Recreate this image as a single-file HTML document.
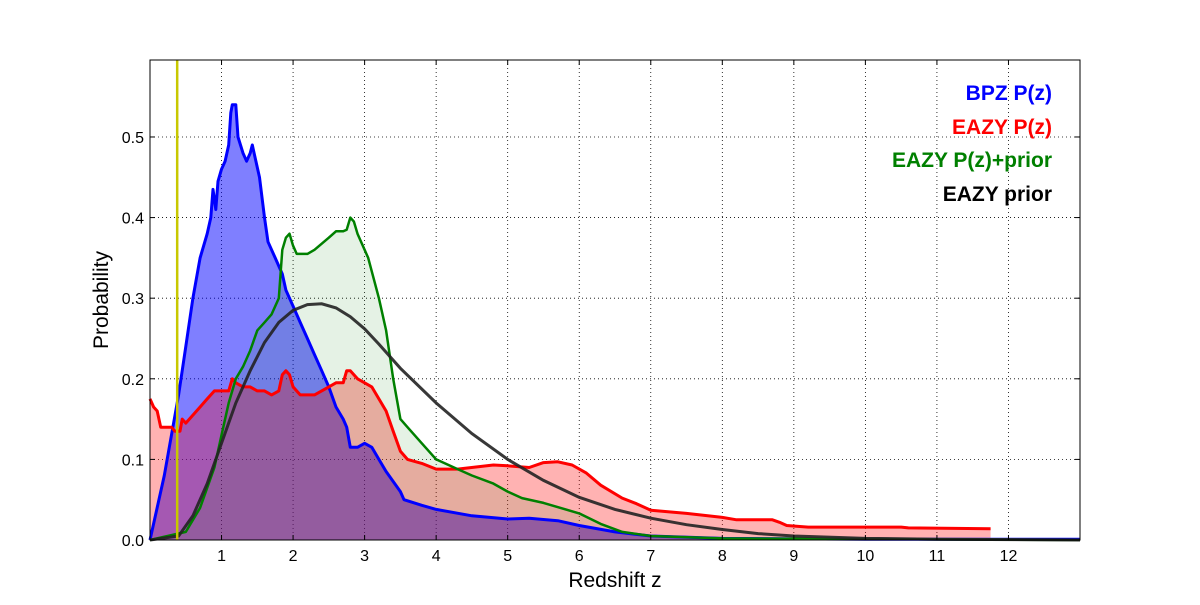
<!DOCTYPE html>
<html><head><meta charset="utf-8"><style>
body{margin:0;background:#fff}
svg{font-family:"Liberation Sans","DejaVu Sans",sans-serif}
</style></head><body>
<svg id="chart" width="1200" height="600"></svg>
<script>
const bpzZ=[0,0.2,0.4,0.5,0.6,0.7,0.8,0.85,0.88,0.92,0.95,1.0,1.05,1.1,1.13,1.15,1.2,1.23,1.3,1.35,1.4,1.43,1.48,1.53,1.6,1.65,1.75,1.85,1.9,2.0,2.1,2.2,2.3,2.4,2.5,2.6,2.7,2.75,2.8,2.9,3.0,3.1,3.2,3.3,3.5,3.55,3.8,4,4.5,5,5.3,5.7,6,6.5,7,8,10,13];
const bpzP=[0,0.08,0.18,0.24,0.3,0.35,0.38,0.4,0.435,0.41,0.445,0.46,0.47,0.49,0.53,0.54,0.54,0.5,0.48,0.47,0.48,0.49,0.47,0.45,0.4,0.37,0.35,0.33,0.31,0.29,0.27,0.25,0.23,0.21,0.19,0.165,0.15,0.14,0.115,0.115,0.12,0.115,0.1,0.085,0.06,0.05,0.043,0.038,0.03,0.026,0.027,0.024,0.018,0.01,0.005,0.002,0.001,0.001];
const eazyZ=[0,0.05,0.1,0.15,0.3,0.35,0.42,0.45,0.5,0.6,0.7,0.8,0.9,1.0,1.1,1.15,1.2,1.3,1.4,1.5,1.6,1.7,1.8,1.85,1.9,1.95,2.0,2.1,2.3,2.5,2.6,2.7,2.75,2.8,2.9,3.0,3.1,3.2,3.3,3.4,3.5,3.6,3.8,4,4.3,4.8,5.0,5.3,5.5,5.7,5.9,6.1,6.3,6.6,6.8,7.0,7.5,8.0,8.2,8.7,8.8,8.9,9.2,10.5,10.6,11.75];
const eazyP=[0.175,0.165,0.16,0.14,0.14,0.135,0.135,0.15,0.145,0.155,0.165,0.175,0.185,0.185,0.185,0.2,0.195,0.19,0.19,0.185,0.185,0.18,0.185,0.205,0.21,0.205,0.19,0.18,0.18,0.19,0.195,0.195,0.21,0.21,0.2,0.195,0.19,0.175,0.16,0.135,0.11,0.1,0.095,0.088,0.088,0.093,0.092,0.09,0.096,0.097,0.093,0.083,0.068,0.052,0.045,0.037,0.033,0.028,0.025,0.025,0.022,0.018,0.016,0.016,0.015,0.014];
const priorPZ=[0,0.5,0.7,0.9,1.0,1.1,1.2,1.3,1.4,1.5,1.6,1.7,1.8,1.85,1.9,1.95,2.0,2.05,2.2,2.3,2.5,2.6,2.7,2.75,2.8,2.85,2.9,3.0,3.05,3.2,3.3,3.4,3.5,3.6,3.8,4.0,4.3,4.5,4.8,5.0,5.2,5.5,6.0,6.3,6.6,7,8,13];
const priorPP=[0,0.01,0.04,0.09,0.13,0.17,0.2,0.215,0.235,0.26,0.27,0.28,0.3,0.36,0.375,0.38,0.365,0.355,0.355,0.36,0.375,0.383,0.383,0.385,0.4,0.395,0.38,0.36,0.35,0.3,0.26,0.2,0.15,0.14,0.12,0.1,0.088,0.08,0.07,0.06,0.052,0.046,0.033,0.02,0.01,0.005,0.002,0];
const priorZ=[0,0.4,0.6,0.8,1.0,1.2,1.4,1.6,1.8,2.0,2.2,2.4,2.6,2.8,3.0,3.2,3.5,4.0,4.5,5.0,5.5,6,6.5,7,7.5,8,8.5,9,10,11,13];
const priorP=[0,0.005,0.03,0.07,0.12,0.17,0.21,0.245,0.27,0.285,0.292,0.293,0.288,0.277,0.262,0.243,0.213,0.17,0.132,0.1,0.074,0.053,0.038,0.027,0.019,0.013,0.008,0.005,0.002,0.001,0];
const xTicks=[1,2,3,4,5,6,7,8,9,10,11,12];
const yTicks=[0,0.1,0.2,0.3,0.4,0.5];
const zCut=0.38;

const NS="http://www.w3.org/2000/svg";
const svg=document.getElementById('chart');
const L=150,R=1080,T=60,B=540,X0=0,X1=13,Y1=0.5955;
const sx=z=>L+(z-X0)/(X1-X0)*(R-L);
const sy=p=>B-p/Y1*(B-T);
function el(tag,attrs,parent){const e=document.createElementNS(NS,tag);for(const k in attrs)e.setAttribute(k,attrs[k]);(parent||svg).appendChild(e);return e;}
// grid
xTicks.forEach(t=>{const g=el('line',{x1:sx(t),x2:sx(t),y1:T,y2:B,stroke:'#000','stroke-dasharray':'1,3','stroke-width':0.8});

});
yTicks.forEach(t=>{const g=el('line',{x1:L,x2:R,y1:sy(t),y2:sy(t),stroke:'#000','stroke-dasharray':'1,3','stroke-width':0.8});

});
function pts(zs,ps){return zs.map((z,i)=>sx(z).toFixed(1)+','+sy(ps[i]).toFixed(1)).join(' ');}
function series(zs,ps,fill,stroke,w,name){
  const a=el('polygon',{points:sx(zs[0])+','+sy(0)+' '+pts(zs,ps)+' '+sx(zs[zs.length-1])+','+sy(0),fill:fill,stroke:'none'});
  
  
  return ()=>{const l=el('polyline',{points:pts(zs,ps),fill:'none',stroke:stroke,'stroke-width':w,'stroke-linejoin':'round'});
  
  };
}
const lb=series(bpzZ,bpzP,'rgba(0,0,255,0.5)','#0000ff',3,'bpz-pz');
const lr=series(eazyZ,eazyP,'rgba(255,0,0,0.3)','#ff0000',3,'eazy-pz');
const lg=series(priorPZ,priorPP,'rgba(0,128,0,0.1)','#008000',2.5,'eazy-pz-prior');
lb();lr();lg();
const pl=el('polyline',{points:pts(priorZ,priorP),fill:'none',stroke:'#222','stroke-width':3,opacity:0.9});


const yl=el('line',{x1:sx(zCut),x2:sx(zCut),y1:T,y2:B,stroke:'#c8c800','stroke-width':2.5});


// frame
const fr=el('rect',{x:L,y:T,width:R-L,height:B-T,fill:'none',stroke:'#000','stroke-width':1});


xTicks.forEach(t=>{
  el('line',{x1:sx(t),x2:sx(t),y1:B,y2:B-5,stroke:'#000'});el('line',{x1:sx(t),x2:sx(t),y1:T,y2:T+5,stroke:'#000'});
  const tx=el('text',{x:sx(t),y:B+21,'font-size':16,'text-anchor':'middle'});tx.textContent=t;
  
  
});
yTicks.forEach(t=>{
  el('line',{x1:L,x2:L+5,y1:sy(t),y2:sy(t),stroke:'#000'});el('line',{x1:R,x2:R-5,y1:sy(t),y2:sy(t),stroke:'#000'});
  const tx=el('text',{x:L-6,y:sy(t)+6,'font-size':16,'text-anchor':'end'});tx.textContent=t.toFixed(1);
  
  
});
</script>
<script>
(function(){
const svg=document.getElementById('chart');const NS="http://www.w3.org/2000/svg";
function t(x,y,s,attrs,name){const e=document.createElementNS(NS,'text');e.setAttribute('x',x);e.setAttribute('y',y);for(const k in attrs)e.setAttribute(k,attrs[k]);e.textContent=s;svg.appendChild(e);

}
t(615,587,'Redshift z',{'font-size':21,'text-anchor':'middle'},'x-axis-title');
t(108,300,'Probability',{'font-size':21,'text-anchor':'middle',transform:'rotate(-90 108 300)'},'y-axis-title');
t(1052,100,'BPZ P(z)',{'font-size':21,'font-weight':'bold','text-anchor':'end',fill:'#0000ff'},'legend-bpz');
t(1052,134,'EAZY P(z)',{'font-size':21,'font-weight':'bold','text-anchor':'end',fill:'#ff0000'},'legend-eazy');
t(1052,167,'EAZY P(z)+prior',{'font-size':21,'font-weight':'bold','text-anchor':'end',fill:'#008000'},'legend-eazy-prior');
t(1052,201,'EAZY prior',{'font-size':21,'font-weight':'bold','text-anchor':'end',fill:'#000'},'legend-prior');
})();
</script>
</body></html>
